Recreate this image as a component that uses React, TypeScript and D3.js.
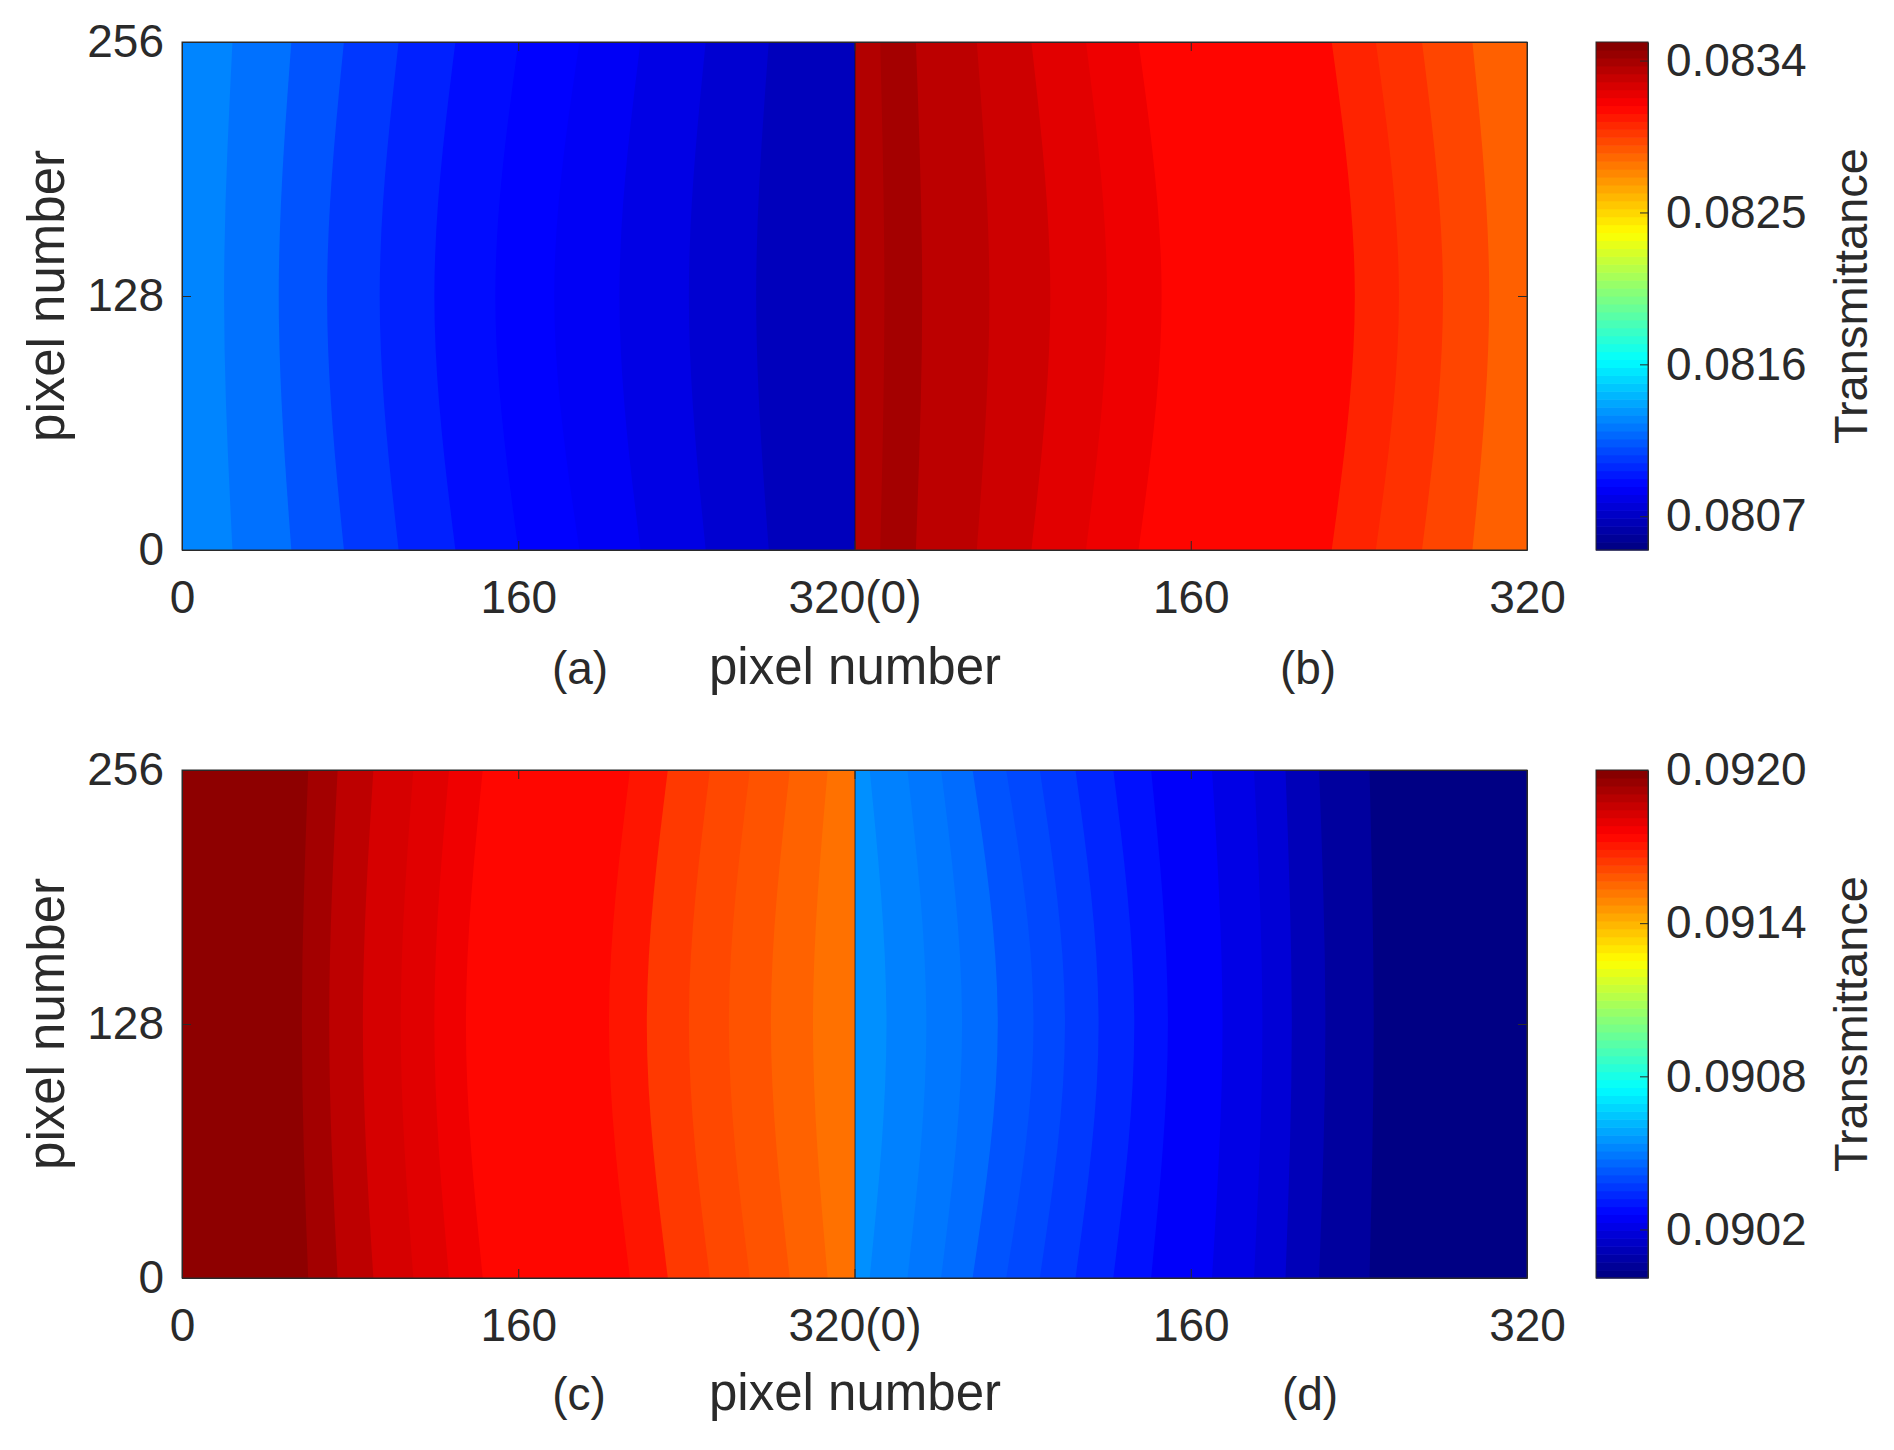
import React, { useRef, useEffect } from "react";
import * as d3 from "d3";

// x of each band's left boundary (pixel number in that half) on the centre row and the top/bottom rows
const bandsA = [0.08127, 0.08121, 0.08112, 0.08104, 0.08097, 0.08091, 0.08088, 0.08085, 0.0808, 0.08074, 0.08068];
const centreA = [0, 20, 46, 69, 94, 120, 149, 177, 208, 241, 273];
const edgeA = [0, 24, 52, 77, 103, 130, 160, 189, 218, 249, 279];

const bandsB = [0.08336, 0.0834, 0.08333, 0.08328, 0.08322, 0.08318, 0.08312, 0.08303, 0.08299, 0.08293, 0.08285];
const centreB = [0, 14, 32, 64, 93, 120, 146, 238, 259, 280, 302];
const edgeB = [0, 12, 29, 58, 84, 110, 135, 227, 248, 270, 294];

const bandsC = [0.09197, 0.09193, 0.09188, 0.09183, 0.09181, 0.09178, 0.09174, 0.09171, 0.09164, 0.09161, 0.09159, 0.09156, 0.09153];
const centreC = [0, 57, 70, 86, 104, 120, 135, 203, 221, 241, 260, 280, 300];
const edgeC = [0, 60, 74, 91, 110, 127, 143, 213, 231, 251, 270, 289, 307];

const bandsD = [0.09054, 0.09051, 0.09049, 0.09047, 0.09042, 0.0904, 0.09037, 0.09033, 0.09029, 0.09025, 0.09021, 0.09018, 0.09012, 0.09007, 0.09002];
const centreD = [0, 15, 34, 51, 68, 85, 100, 116, 133, 149, 175, 194, 208, 224, 247];
const edgeD = [0, 7, 25, 41, 56, 72, 88, 105, 123, 141, 170, 190, 205, 221, 245];

const colorDomainTop = [0.0805, 0.08351];
const colorDomainBottom = [0.09001, 0.092];
const colorTicksTop = [0.0807, 0.0816, 0.0825, 0.0834];
const colorTicksBottom = [0.0902, 0.0908, 0.0914, 0.092];

const xTickValues = [0, 160, 320, 480, 640];
const xTickLabels = ["0", "160", "320(0)", "160", "320"];
const yTickValues = [0, 128, 256];
const jetStops = ["#00007f", "#0000ff", "#00ffff", "#ffff00", "#ff0000", "#7f0000"];
const jetOffsets = [0, 0.125, 0.375, 0.625, 0.875, 1];

const FONT = '"Liberation Sans", Arial, sans-serif';
const INK = "#2a2a2a";
const TICK_SIZE = 46;
const LABEL_SIZE = 51;

const jet = d3.scaleLinear<string>().domain(jetOffsets).range(jetStops).interpolate(d3.interpolateRgb);

const X0 = 182;
const XM = 855;
const X1 = 1527;
const BAR0 = 1596;
const BAR1 = 1648;

interface HalfProps {
  id: string;
  x: d3.ScaleLinear<number, number>;
  y: d3.ScaleLinear<number, number>;
  bands: number[];
  centre: number[];
  edge: number[];
  domain: number[];
}

// one half of a row, bands painted left to right so each covers the rest of the plot
const Half: React.FC<HalfProps> = ({ id, x, y, bands, centre, edge, domain }) => {
  const rows = [0, 128, 256];
  const area = d3
    .area<number>()
    .y((d) => y(d))
    .curve(d3.curveMonotoneY);
  const frac = d3.scaleLinear().domain(domain).range([0, 1]);
  return (
    <g clipPath={`url(#${id})`}>
      <clipPath id={id}>
        <rect x={x(0)} y={y(256)} width={x(320) - x(0)} height={y(0) - y(256)} />
      </clipPath>
      {bands.map((v, i) => {
        const bx = [edge[i], centre[i], edge[i]];
        const d = area.x0((_, k) => (i === 0 ? x(0) : x(bx[k]))).x1(x(320))(rows);
        return <path key={i} d={d ?? ""} fill={jet(frac(v))} />;
      })}
    </g>
  );
};

interface RowProps {
  top: number;
  bottom: number;
  id: string;
  left: { bands: number[]; centre: number[]; edge: number[] };
  right: { bands: number[]; centre: number[]; edge: number[] };
  domain: number[];
  colorTicks: number[];
  tags: string[];
  tagBaseline: number;
  tagX: number[];
}

const Row: React.FC<RowProps> = ({ top, bottom, id, left, right, domain, colorTicks, tags, tagBaseline, tagX }) => {
  const axisRef = useRef<SVGGElement | null>(null);
  const xLeft = d3.scaleLinear().domain([0, 320]).range([X0, XM]);
  const xRight = d3.scaleLinear().domain([0, 320]).range([XM, X1]);
  const y = d3.scaleLinear().domain([0, 256]).range([bottom, top]);
  const yBar = d3.scaleLinear().domain(domain).range([bottom, top]);
  const steps = d3.range(64);
  const frac = d3.scaleLinear().domain([0, 64]).range(domain);
  const stepScale = d3.scaleLinear().domain(domain).range([0, 1]);

  useEffect(() => {
    if (!axisRef.current) return;
    const g = d3.select(axisRef.current);
    g.selectAll("*").remove();
    const xAll = d3.scaleLinear().domain([0, 640]).range([X0, X1]);

    g.append("g")
      .attr("transform", `translate(0,${bottom})`)
      .call(
        d3
          .axisBottom(xAll)
          .tickValues(xTickValues)
          .tickFormat((_, i) => xTickLabels[i])
          .tickSizeInner(-9)
          .tickSizeOuter(0)
          .tickPadding(30)
      );
    g.append("g")
      .attr("transform", `translate(0,${top})`)
      .call(d3.axisTop(xAll).tickValues(xTickValues).tickFormat(() => "").tickSizeInner(-9).tickSizeOuter(0));
    g.append("g")
      .attr("transform", `translate(${X0},0)`)
      .call(d3.axisLeft(y).tickValues(yTickValues).tickSizeInner(-9).tickSizeOuter(0).tickPadding(18));
    g.append("g")
      .attr("transform", `translate(${X1},0)`)
      .call(d3.axisRight(y).tickValues(yTickValues).tickFormat(() => "").tickSizeInner(-9).tickSizeOuter(0));
    g.append("g")
      .attr("transform", `translate(${BAR1},0)`)
      .call(
        d3
          .axisRight(yBar)
          .tickValues(colorTicks)
          .tickFormat((d) => d3.format(".4f")(d as number))
          .tickSizeInner(-8)
          .tickSizeOuter(0)
          .tickPadding(18)
      );
    g.selectAll("text").attr("font-family", FONT).attr("font-size", TICK_SIZE).attr("fill", INK);
    g.selectAll("line").attr("stroke", INK);
    g.selectAll(".domain").attr("stroke", INK);
  }, [top, bottom]);

  const midY = (top + bottom) / 2;
  const labelStyle = { fontFamily: FONT, fill: INK };
  return (
    <g>
      <Half id={`${id}-l`} x={xLeft} y={y} {...left} domain={domain} />
      <Half id={`${id}-r`} x={xRight} y={y} {...right} domain={domain} />
      <line x1={XM} x2={XM} y1={top} y2={bottom} stroke="#111" strokeOpacity={0.7} />
      <rect x={X0} y={top} width={X1 - X0} height={bottom - top} fill="none" stroke={INK} />

      {steps.map((s) => (
        <rect
          key={s}
          x={BAR0}
          width={BAR1 - BAR0}
          y={yBar(frac(s + 1))}
          height={yBar(frac(s)) - yBar(frac(s + 1)) + 0.6}
          fill={jet(stepScale(frac(s + 0.5)))}
        />
      ))}
      <rect x={BAR0} y={top} width={BAR1 - BAR0} height={bottom - top} fill="none" stroke={INK} />

      <g ref={axisRef} />

      <text
        transform={`translate(64,${midY}) rotate(-90)`}
        textAnchor="middle"
        fontSize={LABEL_SIZE}
        style={labelStyle}
      >
        pixel number
      </text>
      <text
        transform={`translate(1867,${midY}) rotate(-90)`}
        textAnchor="middle"
        fontSize={47}
        style={labelStyle}
      >
        Transmittance
      </text>
      <text x={XM} y={tagBaseline} textAnchor="middle" fontSize={LABEL_SIZE} style={labelStyle}>
        pixel number
      </text>
      <text x={tagX[0]} y={tagBaseline} textAnchor="middle" fontSize={TICK_SIZE} style={labelStyle}>
        {tags[0]}
      </text>
      <text x={tagX[1]} y={tagBaseline} textAnchor="middle" fontSize={TICK_SIZE} style={labelStyle}>
        {tags[1]}
      </text>
    </g>
  );
};

export default function App() {
  return (
    <svg
      width={1894}
      height={1450}
      style={{ position: "absolute", left: 0, top: 0, display: "block", background: "#fff" }}
    >
      <Row
        id="top"
        top={42}
        bottom={550}
        left={{ bands: bandsA, centre: centreA, edge: edgeA }}
        right={{ bands: bandsB, centre: centreB, edge: edgeB }}
        domain={colorDomainTop}
        colorTicks={colorTicksTop}
        tags={["(a)", "(b)"]}
        tagBaseline={684}
        tagX={[580, 1308]}
      />
      <Row
        id="bottom"
        top={770}
        bottom={1278}
        left={{ bands: bandsC, centre: centreC, edge: edgeC }}
        right={{ bands: bandsD, centre: centreD, edge: edgeD }}
        domain={colorDomainBottom}
        colorTicks={colorTicksBottom}
        tags={["(c)", "(d)"]}
        tagBaseline={1410}
        tagX={[579, 1310]}
      />
    </svg>
  );
}
